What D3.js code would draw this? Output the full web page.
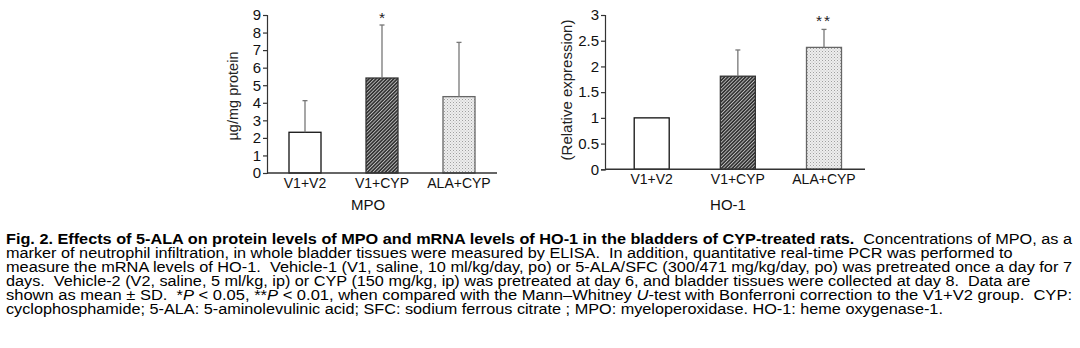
<!DOCTYPE html>
<html><head><meta charset="utf-8">
<script src="https://cdn.jsdelivr.net/npm/d3@7"></script>
<style>
body{margin:0;background:#fff;}
svg{font-family:"Liberation Sans",Arial,sans-serif;}
text{white-space:pre;}
</style></head>
<body><svg id="c" width="1080" height="348"></svg>
<script>
const categories = ["V1+V2","V1+CYP","ALA+CYP"];
const mpoMean = [2.32, 5.41, 4.35];
const mpoSD = [1.80, 3.02, 3.09];
const mpoTicks = [0,1,2,3,4,5,6,7,8,9];
const mpoSig = ["", "*", ""];
const hoMean = [1.0, 1.81, 2.37];
const hoSD = [0.0, 0.51, 0.35];
const hoTicks = [0,0.5,1,1.5,2,2.5,3];
const hoSig = ["", "", "**"];

const svg = d3.select("#c");
const defs = svg.append("defs");
const p1 = defs.append("pattern").attr("id","hatch").attr("patternUnits","userSpaceOnUse")
  .attr("width",2.5).attr("height",2.5).attr("patternTransform","rotate(45)");
p1.append("rect").attr("width",2.5).attr("height",2.5).attr("fill","#303030");
p1.append("rect").attr("width",0.9).attr("height",2.5).attr("fill","#bdbdbd");
const p2 = defs.append("pattern").attr("id","dots").attr("patternUnits","userSpaceOnUse")
  .attr("width",3).attr("height",3);
p2.append("rect").attr("width",3).attr("height",3).attr("fill","#eeeeee");
p2.append("rect").attr("width",1).attr("height",1).attr("fill","#a0a0a0");
p2.append("rect").attr("x",1.5).attr("y",1.5).attr("width",1).attr("height",1).attr("fill","#bdbdbd");
const fills = ["#ffffff","url(#hatch)","url(#dots)"];
const strokes = ["#111","#333","#666"];

function chart(cfg){
  const g = svg.append("g");
  const y = d3.scaleLinear().domain([0, cfg.max]).range([cfg.y0, cfg.y1]);
  const x = d3.scalePoint().domain(categories).range([cfg.c0, cfg.c1]);
  g.selectAll("rect.bar").data(categories).join("rect").attr("class","bar")
    .attr("x", d=>x(d)-cfg.bw/2).attr("width",cfg.bw)
    .attr("y",(d,i)=>y(cfg.mean[i])).attr("height",(d,i)=>y(0)-y(cfg.mean[i]))
    .attr("fill",(d,i)=>fills[i]).attr("stroke",(d,i)=>strokes[i]).attr("stroke-width",1.3);
  categories.forEach((c,i)=>{
    if(cfg.sd[i]<=0) return;
    const xt = x(c), yt = y(cfg.mean[i]+cfg.sd[i]);
    g.append("line").attr("x1",xt).attr("x2",xt).attr("y1",y(cfg.mean[i])).attr("y2",yt)
      .attr("stroke","#777").attr("stroke-width",1.3);
    g.append("line").attr("x1",xt-2.5).attr("x2",xt+2.5).attr("y1",yt).attr("y2",yt)
      .attr("stroke","#777").attr("stroke-width",1.3);
    if(cfg.sig[i]) g.append("text").attr("x",xt).attr("y",yt-cfg.sigOff).attr("text-anchor","middle")
      .attr("font-size",15.5).attr("letter-spacing",cfg.sig[i].length>1?2:0).attr("fill","#222").text(cfg.sig[i]);
  });
  const ax = g.append("g").attr("transform",`translate(${cfg.ax},0)`)
    .call(d3.axisLeft(y).tickValues(cfg.ticks).tickSize(4).tickPadding(2).tickFormat(d3.format("")));
  ax.selectAll("text").attr("font-size",15).attr("fill","#111").attr("font-family","Liberation Sans, Arial, sans-serif");
  ax.select(".domain").attr("stroke","#333").attr("stroke-width",1.2);
  ax.selectAll(".tick line").attr("stroke","#333").attr("stroke-width",1.2);
  g.append("line").attr("x1",cfg.ax).attr("x2",cfg.axEnd).attr("y1",y(0)).attr("y2",y(0))
    .attr("stroke","#333").attr("stroke-width",1.4);
  g.selectAll("text.cat").data(categories).join("text").attr("class","cat")
    .attr("x",d=>x(d)).attr("y",y(0)+14.5).attr("text-anchor","middle").attr("font-size",14)
    .attr("fill","#111").text(d=>d);
  g.append("text").attr("transform",`translate(${cfg.ylx},${cfg.yly}) rotate(-90)`)
    .attr("text-anchor","middle").attr("font-size",cfg.ylSize).attr("fill","#222").text(cfg.ylabel);
  g.append("text").attr("x",cfg.tx).attr("y",210).attr("text-anchor","middle")
    .attr("font-size",15).attr("fill","#111").text(cfg.title);
}

chart({max:9,y0:173,y1:15,c0:305,c1:459,bw:32,mean:mpoMean,sd:mpoSD,sig:mpoSig,ticks:mpoTicks,
  ax:267,axEnd:497,ylx:238,yly:96,ylabel:"µg/mg protein",ylSize:14.5,title:"MPO",tx:368,sigOff:2});
chart({max:3,y0:169.3,y1:15,c0:651.7,c1:824,bw:35,mean:hoMean,sd:hoSD,sig:hoSig,ticks:hoTicks,
  ax:605,axEnd:865,ylx:572,yly:90,ylabel:"(Relative expression)",ylSize:15,title:"HO-1",tx:728,sigOff:3});

const lines = [
  [["b","Fig. 2. Effects of 5-ALA on protein levels of MPO and mRNA levels of HO-1 in the bladders of CYP-treated rats."],["n","  Concentrations of MPO, as a"]],
  [["n","marker of neutrophil infiltration, in whole bladder tissues were measured by ELISA.  In addition, quantitative real-time PCR was performed to"]],
  [["n","measure the mRNA levels of HO-1.  Vehicle-1 (V1, saline, 10 ml/kg/day, po) or 5-ALA/SFC (300/471 mg/kg/day, po) was pretreated once a day for 7"]],
  [["n","days.  Vehicle-2 (V2, saline, 5 ml/kg, ip) or CYP (150 mg/kg, ip) was pretreated at day 6, and bladder tissues were collected at day 8.  Data are"]],
  [["n","shown as mean ± SD.  *"],["i","P"],["n"," < 0.05, **"],["i","P"],["n"," < 0.01, when compared with the Mann–Whitney "],["i","U"],["n","-test with Bonferroni correction to the V1+V2 group.  CYP:"]],
  [["n","cyclophosphamide; 5-ALA: 5-aminolevulinic acid; SFC: sodium ferrous citrate ; MPO: myeloperoxidase. HO-1: heme oxygenase-1."]]
];
const fullWidth = [true,false,true,false,true,false];
const stretch = 1.16;
const cap = svg.append("g");
lines.forEach((ln,i)=>{
  const t = cap.append("text").attr("x",6).attr("y",244+i*14).attr("font-size",14).attr("fill","#000");
  ln.forEach(([k,s])=>{
    const sp = t.append("tspan").text(s);
    if(k==="b") sp.attr("font-weight","bold");
    if(k==="i") sp.attr("font-style","italic");
  });
  const w = t.node().getComputedTextLength();
  const target = fullWidth[i] ? 1066 : w*stretch;
  t.attr("textLength",target).attr("lengthAdjust","spacingAndGlyphs");
});
</script></body></html>
